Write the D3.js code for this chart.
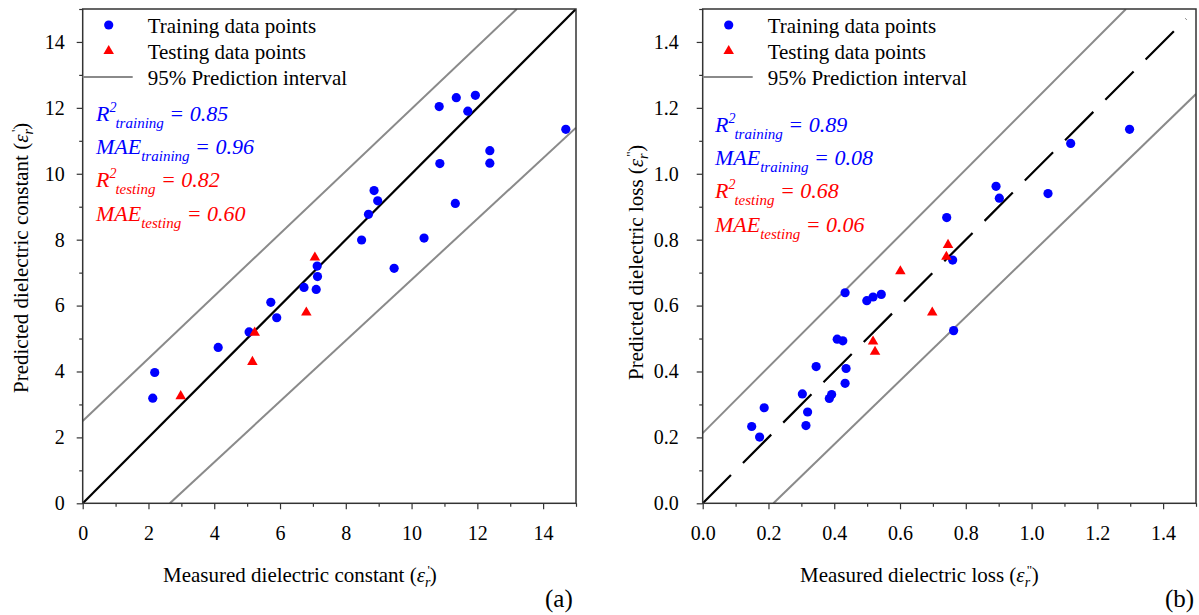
<!DOCTYPE html>
<html><head><meta charset="utf-8">
<script src="https://cdn.jsdelivr.net/npm/d3@7"></script>
</head>
<body style="margin:0;background:#fff"><svg id="c" width="1199" height="615"></svg>
<script>
// ---------- Panel (a): dielectric constant ----------
const trainA_x=[2.13,2.19,4.12,5.06,5.72,5.90,6.73,7.10,7.14,7.13,9.47,8.48,8.69,8.86,8.97,10.38,10.86,10.84,11.36,11.33,11.71,11.94,12.38,12.38,14.69];
const trainA_y=[3.19,3.97,4.73,5.20,6.10,5.63,6.55,6.49,6.88,7.20,7.13,7.99,8.77,9.49,9.18,8.05,10.31,12.04,12.31,9.10,11.90,12.38,10.70,10.32,11.35];
const testA_x=[7.06,6.80,5.23,5.16,2.98];
const testA_y=[7.46,5.79,5.18,4.29,3.25];
const fitA=[[0,0],[15,15]];
const upperA=[[0,2.5],[13.2,15]];
const lowerA=[[2.65,0],[15,11.4]];
const ticksA=[0,2,4,6,8,10,12,14];
const minorA=[1,3,5,7,9,11,13,15];
const statsA=[["R","2","training","0.85"],["MAE","","training","0.96"],["R","2","testing","0.82"],["MAE","","testing","0.60"]];

// ---------- Panel (b): dielectric loss ----------
const trainB_x=[0.149,0.173,0.187,0.303,0.314,0.319,0.345,0.385,0.392,0.409,0.426,0.433,0.436,0.433,0.499,0.518,0.543,0.742,0.760,0.763,0.892,0.902,1.050,1.119,1.298];
const trainB_y=[0.233,0.201,0.290,0.332,0.236,0.277,0.415,0.318,0.330,0.498,0.493,0.639,0.409,0.364,0.615,0.626,0.634,0.867,0.738,0.524,0.962,0.926,0.940,1.092,1.135];
const testB_x=[0.601,0.698,0.518,0.524,0.746,0.741];
const testB_y=[0.704,0.579,0.491,0.460,0.784,0.748];
const fitB=[[0,0],[1.47,1.47]];
const upperB=[[0,0.213],[1.287,1.5]];
const lowerB=[[0.215,0],[1.5,1.242]];
const ticksB=[0,0.2,0.4,0.6,0.8,1.0,1.2,1.4];
const minorB=[0.1,0.3,0.5,0.7,0.9,1.1,1.3,1.5];
const statsB=[["R","2","training","0.89"],["MAE","","training","0.08"],["R","2","testing","0.68"],["MAE","","testing","0.06"]];

const legendLabels=["Training data points","Testing data points","95% Prediction interval"];
const BLUE="#0000ff", RED="#ff0000", GRAY="#8a8a8a";
const FONT="'Liberation Serif'";

const svg=d3.select("#c");

function panel(o){
  const g=svg.append("g");
  const x=d3.scaleLinear([0,o.max],[o.x0,o.x1]);
  const y=d3.scaleLinear([0,o.max],[503.3,9]);
  const cid="clip"+o.id;
  svg.append("clipPath").attr("id",cid).append("rect")
    .attr("x",o.x0).attr("y",9).attr("width",o.x1-o.x0).attr("height",503.3-9);
  const line=d3.line().x(d=>x(d[0])).y(d=>y(d[1]));
  const pl=g.append("g").attr("clip-path",`url(#${cid})`);
  pl.append("path").attr("d",line(o.upper)).attr("stroke",GRAY).attr("stroke-width",2).attr("fill","none");
  pl.append("path").attr("d",line(o.lower)).attr("stroke",GRAY).attr("stroke-width",2).attr("fill","none");
  pl.append("path").attr("d",line(o.fit)).attr("stroke","#000").attr("stroke-width",2.2).attr("fill","none")
    .attr("stroke-dasharray",o.dash||null);

  const fmt=o.fmt;
  const ax=g.append("g").attr("transform","translate(0,503.3)")
    .call(d3.axisBottom(x).tickValues(o.ticks).tickSize(6).tickPadding(17).tickFormat(fmt));
  const axm=g.append("g").attr("transform","translate(0,503.3)")
    .call(d3.axisBottom(x).tickValues(o.minor).tickSize(3.5).tickFormat(""));
  const ay=g.append("g").attr("transform",`translate(${o.x0},0)`)
    .call(d3.axisLeft(y).tickValues(o.ticks).tickSize(6).tickPadding(o.ypad).tickFormat(fmt));
  const aym=g.append("g").attr("transform",`translate(${o.x0},0)`)
    .call(d3.axisLeft(y).tickValues(o.minor).tickSize(3.5).tickFormat(""));
  [ax,axm,ay,aym].forEach(a=>{
    a.attr("font-family",null);
    a.select(".domain").remove();
    a.selectAll("line").attr("stroke","#333").attr("stroke-width",1.2);
    a.selectAll("text").attr("font-size",20).attr("fill","#000");
  });
  g.append("rect").attr("x",o.x0).attr("y",9).attr("width",o.x1-o.x0).attr("height",503.3-9)
    .attr("fill","none").attr("stroke","#333").attr("stroke-width",1.5);

  const pts=g.append("g");
  pts.selectAll("circle").data(o.tx.map((v,i)=>[v,o.ty[i]])).join("circle")
    .attr("cx",d=>x(d[0])).attr("cy",d=>y(d[1])).attr("r",4.6).attr("fill",BLUE);
  const tri=d3.symbol().type(d3.symbolTriangle).size(48);
  pts.selectAll("path.t").data(o.sx.map((v,i)=>[v,o.sy[i]])).join("path").attr("class","t")
    .attr("d",tri).attr("transform",d=>`translate(${x(d[0])},${y(d[1])})`).attr("fill",RED);

  const lg=g.append("g");
  const lx=o.x0+26;
  lg.append("circle").attr("cx",lx).attr("cy",25).attr("r",4.6).attr("fill",BLUE);
  lg.append("path").attr("d",tri).attr("transform",`translate(${lx},51)`).attr("fill",RED);
  lg.append("line").attr("x1",o.x0).attr("x2",o.x0+50).attr("y1",77).attr("y2",77)
    .attr("stroke",GRAY).attr("stroke-width",2);
  legendLabels.forEach((t,i)=>{
    lg.append("text").attr("x",o.x0+65).attr("y",33+i*26).attr("font-size",21).text(t);
  });

  o.stats.forEach((s,i)=>{
    const t=g.append("text").attr("x",o.sxpos).attr("y",o.sy0+i*33.2)
      .attr("font-size",22).style("font-style","italic").attr("fill",i<2?BLUE:RED);
    t.append("tspan").text(s[0]);
    if(s[1]){
      t.append("tspan").attr("font-size",14).attr("dy",-9).text(s[1]);
      t.append("tspan").attr("font-size",15).attr("dy",16).attr("dx",-1).text(s[2]);
      t.append("tspan").attr("dy",-7).text(" = "+s[3]);
    } else {
      t.append("tspan").attr("font-size",15).attr("dy",7).text(s[2]);
      t.append("tspan").attr("dy",-7).text(" = "+s[3]);
    }
  });

  function eps(t,prime){
    t.append("tspan").style("font-style","italic").text("ε");
    t.append("tspan").style("font-style","italic").attr("font-size",14).attr("dy",5).text("r");
    t.append("tspan").attr("font-size",13).attr("dx",-3).attr("dy",-13).text(prime);
    t.append("tspan").attr("dy",8).text(")");
  }
  const xt=g.append("text").attr("x",o.xtx).attr("y",582).attr("font-size",21);
  xt.append("tspan").text(o.xlabel+" (");
  eps(xt,o.prime);
  const yt=g.append("text").attr("transform",`translate(${o.ytx},${o.yty}) rotate(-90)`).attr("font-size",21);
  yt.append("tspan").text(o.ylabel+" (");
  eps(yt,o.prime);

  g.append("text").attr("x",o.tagx).attr("y",607).attr("font-size",25).text(o.tag);
}

panel({id:"a",max:15,x0:82.7,x1:576,tx:trainA_x,ty:trainA_y,sx:testA_x,sy:testA_y,
  fit:fitA,upper:upperA,lower:lowerA,ticks:ticksA,minor:minorA,fmt:d3.format("d"),ypad:12,
  stats:statsA,sxpos:96,sy0:121,xlabel:"Measured dielectric constant",ylabel:"Predicted dielectric constant",
  prime:"'",xtx:163,ytx:28,yty:393,tag:"(a)",tagx:545});
panel({id:"b",max:1.5,x0:702.7,x1:1196,tx:trainB_x,ty:trainB_y,sx:testB_x,sy:testB_y,
  fit:fitB,upper:upperB,lower:lowerB,dash:"40,17",ticks:ticksB,minor:minorB,fmt:d3.format(".1f"),ypad:18,
  stats:statsB,sxpos:715,sy0:132,xlabel:"Measured dielectric loss",ylabel:"Predicted dielectric loss",
  prime:"''",xtx:800,ytx:643,yty:380,tag:"(b)",tagx:1165});

svg.selectAll("text").style("font-family",FONT);
</script></body></html>
